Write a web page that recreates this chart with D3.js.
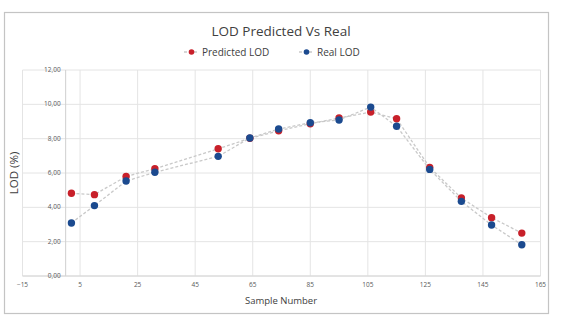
<!DOCTYPE html>
<html>
<head>
<meta charset="utf-8">
<script src="https://cdn.jsdelivr.net/npm/d3@7"></script>
<style>
  body { margin: 0; background: #fff; }
  text { font-family: "Open Sans", "Noto Sans", sans-serif; }
</style>
</head>
<body>
<div id="chart"></div>
<script>
// sample numbers and LOD values (%)
var sampleNumbers = [2, 10, 21, 31, 53, 64, 74, 85, 95, 106, 115, 126.5, 137.5, 148, 158.5];
var predictedLOD  = [4.82, 4.74, 5.80, 6.25, 7.41, 8.02, 8.46, 8.87, 9.20, 9.55, 9.16, 6.33, 4.54, 3.40, 2.50];
var realLOD       = [3.09, 4.10, 5.53, 6.04, 6.97, 8.04, 8.56, 8.93, 9.09, 9.84, 8.72, 6.21, 4.35, 2.97, 1.82];

var xTicks = [-15, 5, 25, 45, 65, 85, 105, 125, 145, 165];
var yTicks = [0, 2, 4, 6, 8, 10, 12];

var seriesNames = ["Predicted LOD", "Real LOD"];
var seriesColors = ["#c8202a", "#1b4a8f"];

var W = 561, H = 322;
var svg = d3.select("#chart").append("svg")
    .attr("width", W)
    .attr("height", H);

// outer chart frame
svg.append("rect")
    .attr("x", 4.5).attr("y", 12.5)
    .attr("width", 544).attr("height", 301)
    .attr("fill", "#fff")
    .attr("stroke", "#c4c4c4")
    .attr("stroke-width", 1.2);

var x = d3.scaleLinear().domain([-15, 165]).range([22.5, 540.5]);
var y = d3.scaleLinear().domain([0, 12]).range([276, 70]);

// gridlines
var grid = svg.append("g");
grid.selectAll(".vgrid").data(xTicks).enter().append("line")
    .attr("x1", function(d){ return x(d); })
    .attr("x2", function(d){ return x(d); })
    .attr("y1", y(0)).attr("y2", y(12))
    .attr("stroke", "#e4e4e4").attr("stroke-width", 1);
grid.selectAll(".hgrid").data(yTicks).enter().append("line")
    .attr("x1", x(-15)).attr("x2", x(165))
    .attr("y1", function(d){ return y(d); })
    .attr("y2", function(d){ return y(d); })
    .attr("stroke", "#e4e4e4").attr("stroke-width", 1);

// y axis sits at x = 0
svg.append("line")
    .attr("x1", x(0)).attr("x2", x(0))
    .attr("y1", y(0)).attr("y2", y(12))
    .attr("stroke", "#cfcfcf").attr("stroke-width", 1);
svg.append("line")
    .attr("x1", x(-15)).attr("x2", x(165))
    .attr("y1", y(0)).attr("y2", y(0))
    .attr("stroke", "#d6d6d6").attr("stroke-width", 1);

// tick labels
var fmt = function(d){ return d3.format(".2f")(d).replace(".", ","); };
svg.selectAll(".ylab").data(yTicks).enter().append("text")
    .attr("x", x(0) - 5)
    .attr("y", function(d){ return y(d); })
    .attr("dy", "0.32em")
    .attr("text-anchor", "end")
    .attr("font-size", 6.5)
    .attr("fill", "#595959")
    .text(fmt);

svg.selectAll(".xlab").data(xTicks).enter().append("text")
    .attr("x", function(d){ return x(d); })
    .attr("y", 287)
    .attr("text-anchor", "middle")
    .attr("font-size", 6.5)
    .attr("fill", "#595959")
    .text(function(d){ return d < 0 ? "\u2212" + Math.abs(d) : d; });

// titles
svg.append("text")
    .attr("x", 281).attr("y", 36)
    .attr("text-anchor", "middle")
    .attr("font-size", 13.5)
    .attr("fill", "#404040")
    .text("LOD Predicted Vs Real");

svg.append("text")
    .attr("x", 281).attr("y", 304)
    .attr("text-anchor", "middle")
    .attr("font-size", 9.5)
    .attr("fill", "#404040")
    .text("Sample Number");

svg.append("text")
    .attr("transform", "translate(18," + 173 + ") rotate(-90)")
    .attr("text-anchor", "middle")
    .attr("font-size", 11.5)
    .attr("fill", "#404040")
    .text("LOD (%)");

// series
var series = [predictedLOD, realLOD].map(function(vals, i){
    return {
        name: seriesNames[i],
        color: seriesColors[i],
        points: vals.map(function(v, j){ return { x: sampleNumbers[j], y: v }; })
    };
});

var line = d3.line()
    .x(function(d){ return x(d.x); })
    .y(function(d){ return y(d.y); });

var g = svg.selectAll(".series").data(series).enter().append("g")
    .attr("class", "series");

g.append("path")
    .attr("d", function(d){ return line(d.points); })
    .attr("fill", "none")
    .attr("stroke", "#c9c9c9")
    .attr("stroke-width", 1.3)
    .attr("stroke-dasharray", "3,2");

g.selectAll("circle").data(function(d){
        return d.points.map(function(p){ return { x: p.x, y: p.y, color: d.color }; });
    }).enter().append("circle")
    .attr("cx", function(d){ return x(d.x); })
    .attr("cy", function(d){ return y(d.y); })
    .attr("r", 3.7)
    .attr("fill", function(d){ return d.color; });

// legend
var legendX = [184, 299];
var legend = svg.selectAll(".legend").data(series).enter().append("g")
    .attr("class", "legend")
    .attr("transform", function(d, i){ return "translate(" + legendX[i] + ",52)"; });

legend.append("line")
    .attr("x1", 0).attr("x2", 15)
    .attr("stroke", "#c9c9c9")
    .attr("stroke-width", 1.3)
    .attr("stroke-dasharray", "3,2");

legend.append("circle")
    .attr("cx", 7.5).attr("cy", 0)
    .attr("r", 2.8)
    .attr("fill", function(d){ return d.color; });

legend.append("text")
    .attr("x", 18).attr("y", 0)
    .attr("dy", "0.35em")
    .attr("font-size", 10)
    .attr("fill", "#404040")
    .text(function(d){ return d.name; });
</script>
</body>
</html>
